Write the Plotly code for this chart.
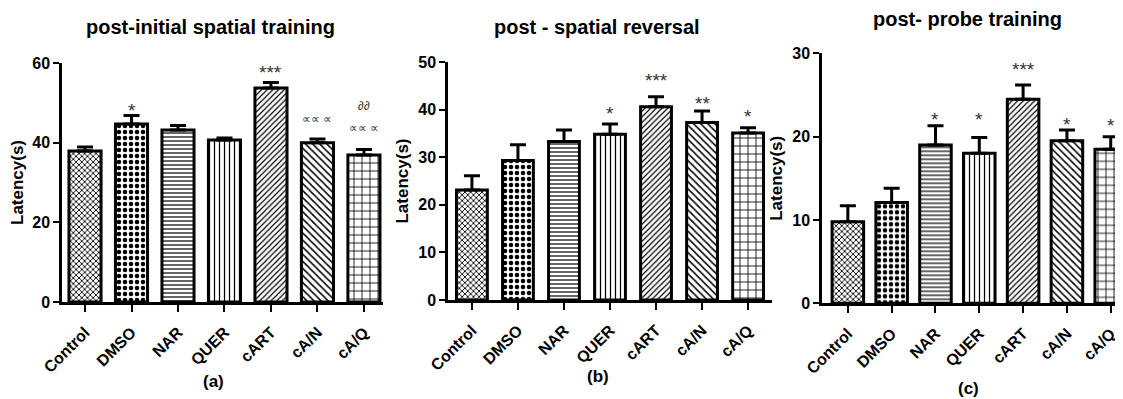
import plotly.graph_objects as go

categories = ["Control", "DMSO", "NAR", "QUER", "cART", "cA/N", "cA/Q"]

a_mean = [37.9, 44.7, 43.2, 40.7, 53.7, 40.0, 36.9]
a_err = [1.0, 2.1, 1.1, 0.5, 1.4, 0.9, 1.4]
b_mean = [23.1, 29.3, 33.3, 34.8, 40.6, 37.3, 35.1]
b_err = [3.0, 3.3, 2.4, 2.2, 2.1, 2.4, 1.1]
c_mean = [9.8, 12.1, 19.0, 18.0, 24.5, 19.5, 18.5]
c_err = [1.9, 1.7, 2.3, 1.9, 1.7, 1.3, 1.5]

# significance marks: category, text, y value
a_sig_cat = ["DMSO", "cART", "cA/N", "cA/Q", "cA/Q"]
a_sig_txt = ["*", "***", "∝∝ ∝", "∂∂", "∝∝ ∝"]
a_sig_y = [49.5, 59.0, 45.9, 49.2, 43.7]
b_sig_cat = ["QUER", "cART", "cA/N", "cA/Q"]
b_sig_txt = ["*", "***", "**", "*"]
b_sig_y = [40.5, 47.3, 42.6, 39.9]
c_sig_cat = ["NAR", "QUER", "cART", "cA/N", "cA/Q"]
c_sig_txt = ["*", "*", "***", "*", "*"]
c_sig_y = [22.8, 22.8, 28.8, 22.2, 22.0]

titles = ["post-initial spatial training", "post - spatial reversal", "post- probe training"]
panel_labels = ["(a)", "(b)", "(c)"]
y_ticks = [[0, 20, 40, 60], [0, 10, 20, 30, 40, 50], [0, 10, 20, 30]]

# the page body has an 8px default margin; size the figure to fit the window
OFF = 8
W, H = 1123 - OFF, 399 - OFF
FONT = "Liberation Sans, Arial, sans-serif"

patterns = [
    dict(shape="x", size=4, solidity=0.4),
    dict(shape=".", size=6, solidity=0.45),
    dict(shape="-", size=4, solidity=0.3),
    dict(shape="|", size=5, solidity=0.25),
    dict(shape="/", size=4, solidity=0.3),
    dict(shape="\\", size=5, solidity=0.3),
    dict(shape="+", size=8, solidity=0.2),
]

def px_x(p):
    return (p - OFF) / W

def px_y(p):
    return 1 - (p - OFF) / H

# panel geometry (window pixels)
panels = [
    dict(x0=62, x1=383, y0=302, y1=63, ymax=60, xr=[-0.495, 6.41], bw=0.69),
    dict(x0=448, x1=772, y0=300, y1=62, ymax=50, xr=[-0.52, 6.52], bw=0.67),
    dict(x0=822, x1=1123, y0=303.3, y1=53.3, ymax=30, xr=[-0.59, 6.28], bw=0.72),
]

means = [a_mean, b_mean, c_mean]
errs = [a_err, b_err, c_err]
sigs = [(a_sig_cat, a_sig_txt, a_sig_y), (b_sig_cat, b_sig_txt, b_sig_y), (c_sig_cat, c_sig_txt, c_sig_y)]

fig = go.Figure()
layout = dict(
    width=W, height=H, margin=dict(l=0, r=0, t=0, b=0, autoexpand=False),
    paper_bgcolor="white", plot_bgcolor="white", showlegend=False,
    font=dict(family=FONT, color="black"),
)
annotations = []

for i, p in enumerate(panels):
    xa = "x" if i == 0 else f"x{i+1}"
    ya = "y" if i == 0 else f"y{i+1}"
    for j, cat in enumerate(categories):
        pat = dict(patterns[j])
        pat.update(fgcolor="black", bgcolor="white", fillmode="replace")
        fig.add_trace(go.Bar(
            x=[cat], y=[means[i][j]], xaxis=xa, yaxis=ya, width=p["bw"],
            marker=dict(color="white", line=dict(color="black", width=3), pattern=pat),
            error_y=dict(type="data", symmetric=False, array=[errs[i][j]], arrayminus=[0],
                         color="black", thickness=3, width=8),
        ))
    xkey = "xaxis" if i == 0 else f"xaxis{i+1}"
    ykey = "yaxis" if i == 0 else f"yaxis{i+1}"
    layout[xkey] = dict(
        domain=[px_x(p["x0"]), min(1, px_x(p["x1"]))], anchor=ya, type="category",
        categoryorder="array", categoryarray=categories, range=p["xr"], automargin=False,
        showline=True, linecolor="black", linewidth=2.5, ticks="outside", ticklen=7,
        tickwidth=2, tickcolor="black", tickangle=-45, showgrid=False, zeroline=False,
        ticklabelstandoff=5,
        tickfont=dict(family=FONT, size=16, weight="bold", color="black"),
    )
    layout[ykey] = dict(
        domain=[px_y(p["y0"]), px_y(p["y1"])], anchor=xa, range=[0, p["ymax"]],
        tickvals=y_ticks[i], showline=True, linecolor="black", linewidth=2.5, automargin=False,
        ticks="outside", ticklen=6, tickwidth=2, tickcolor="black", showgrid=False,
        zeroline=False, tickfont=dict(family=FONT, size=16, weight="bold", color="black"),
        title=dict(text="Latency(s)", standoff=6,
                   font=dict(family=FONT, size=17, weight="bold", color="black")),
    )
    cats, txts, ys = sigs[i]
    for c, t, yv in zip(cats, txts, ys):
        is_star = "*" in t
        annotations.append(dict(
            x=c, y=yv, xref=xa, yref=ya, text=t, showarrow=False,
            xanchor="center", yanchor="middle",
            yshift=-6 if is_star else 0,
            font=dict(family=FONT, size=19 if is_star else 12, color="#333333"),
        ))

title_pos = [(210, 27), (597, 27), (967, 19)]
for t, (tx, ty) in zip(titles, title_pos):
    annotations.append(dict(x=px_x(tx), y=px_y(ty), xref="paper", yref="paper", text=t,
                            xanchor="center", yanchor="middle", showarrow=False,
                            font=dict(family=FONT, size=20, weight="bold")))

label_pos = [(213, 381), (598, 376), (968, 388)]
for t, (tx, ty) in zip(panel_labels, label_pos):
    annotations.append(dict(x=px_x(tx), y=px_y(ty), xref="paper", yref="paper", text=t,
                            xanchor="center", yanchor="middle", showarrow=False,
                            font=dict(family=FONT, size=17, weight="bold")))

layout["annotations"] = annotations
fig.update_layout(**layout)
fig.write_html("out.html")
